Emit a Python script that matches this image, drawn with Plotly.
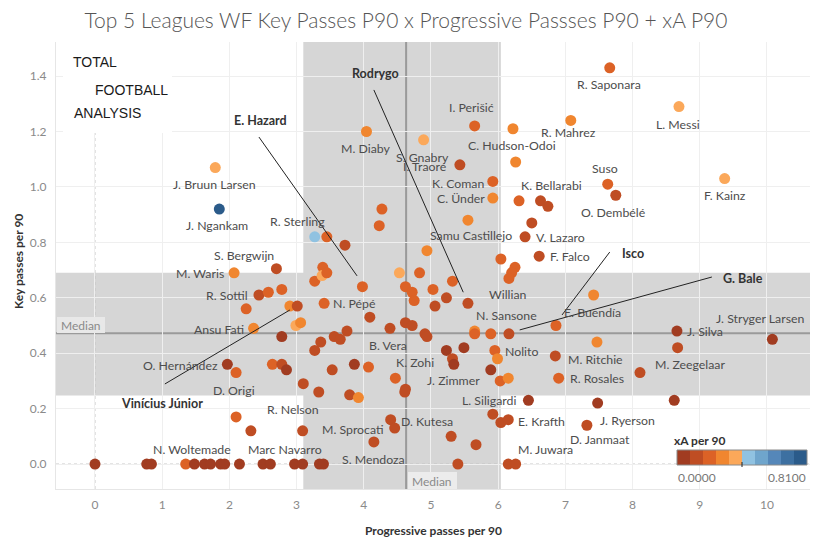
import plotly.graph_objects as go

TITLE = "Top 5 Leagues WF Key Passes P90 x Progressive Passses P90 + xA P90"
X_TITLE = "Progressive passes per 90"
Y_TITLE = "Key passes per 90"
LEGEND_TITLE = "xA per 90"

# ---- data ----
PROG_P90 = [
    1.79, 1.85, 3.27, 3.45, 3.39, 2.70, 2.07, 4.04, 4.89, 5.65,
    6.22, 5.43, 6.26, 5.92, 5.92, 6.31, 6.63, 6.74, 5.55, 6.50,
    6.40, 6.61, 4.27, 4.23, 3.72, 4.94, 6.04, 6.25, 7.66, 7.08,
    8.69, 7.63, 7.75, 9.37, 2.44, 2.58, 2.78, 2.25, 2.90, 3.01,
    2.36, 2.99, 3.06, 2.78, 1.97, 2.10, 2.64, 2.78, 2.85, 3.10,
    3.33, 3.27, 3.36, 3.53, 3.56, 3.41, 3.27, 3.38, 3.45, 2.10,
    2.32, 3.09, 3.98, 4.53, 4.83, 4.62, 4.72, 5.03, 5.32, 5.23,
    4.75, 5.06, 5.55, 6.20, 6.16, 4.09, 4.39, 4.62, 4.72, 4.91,
    4.94, 3.75, 3.65, 5.65, 5.65, 5.89, 6.16, 5.23, 5.49, 5.32,
    5.34, 5.95, 5.99, 5.89, 6.03, 6.15, 6.45, 5.92, 6.04, 6.15,
    5.30, 5.67, 3.86, 4.07, 3.79, 3.92, 4.47, 4.62, 4.61, 4.40,
    4.46, 4.15, 6.85, 6.90, 7.42, 7.47, 7.32, 7.48, 8.66, 8.67,
    10.08, 8.11, 8.62, 6.86,
    0.00, 0.77, 0.84, 1.35, 1.48, 1.63, 1.72, 1.87, 1.93, 2.15,
    2.50, 2.61, 2.97, 3.09, 3.34, 3.40, 5.40, 6.15, 6.26,
]
KEYP_P90 = [
    1.07, 0.92, 0.82, 0.82, 0.71, 0.705, 0.69, 1.20, 1.17, 1.22,
    1.21, 1.08, 1.09, 1.02, 0.96, 0.95, 0.95, 0.93, 0.88, 0.87,
    0.82, 0.75, 0.92, 0.86, 0.79, 0.77, 0.74, 0.71, 1.43, 1.24,
    1.29, 1.01, 0.97, 1.03, 0.61, 0.62, 0.63, 0.56, 0.57, 0.57,
    0.49, 0.50, 0.51, 0.46, 0.36, 0.33, 0.36, 0.36, 0.34, 0.29,
    0.26, 0.41, 0.44, 0.34, 0.46, 0.58, 0.66, 0.68, 0.69, 0.17,
    0.12, 0.12, 0.64, 0.69, 0.69, 0.64, 0.62, 0.63, 0.66, 0.60,
    0.59, 0.57, 0.58, 0.69, 0.67, 0.53, 0.49, 0.51, 0.50, 0.47,
    0.46, 0.48, 0.45, 0.48, 0.47, 0.47, 0.47, 0.41, 0.42, 0.38,
    0.36, 0.41, 0.38, 0.34, 0.30, 0.31, 0.23, 0.18, 0.15, 0.16,
    0.10, 0.07, 0.36, 0.35, 0.25, 0.24, 0.31, 0.27, 0.26, 0.16,
    0.13, 0.08, 0.39, 0.31, 0.61, 0.44, 0.14, 0.22, 0.48, 0.42,
    0.45, 0.33, 0.23, 0.50,
    0.0, 0.0, 0.0, 0.0, 0.0, 0.0, 0.0, 0.0, 0.0, 0.0,
    0.0, 0.0, 0.0, 0.0, 0.0, 0.0, 0.0, 0.0, 0.0,
]
XA_P90 = [
    0.36, 0.79, 0.44, 0.20, 0.21, 0.12, 0.28, 0.29, 0.36, 0.21,
    0.27, 0.13, 0.28, 0.19, 0.29, 0.20, 0.12, 0.11, 0.28, 0.13,
    0.12, 0.11, 0.19, 0.21, 0.12, 0.30, 0.20, 0.21, 0.20, 0.28,
    0.36, 0.21, 0.12, 0.37, 0.10, 0.20, 0.21, 0.19, 0.28, 0.11,
    0.28, 0.35, 0.27, 0.05, 0.04, 0.20, 0.19, 0.13, 0.06, 0.12,
    0.11, 0.13, 0.12, 0.11, 0.12, 0.20, 0.19, 0.36, 0.21, 0.19,
    0.12, 0.11, 0.20, 0.36, 0.19, 0.20, 0.21, 0.20, 0.21, 0.12,
    0.20, 0.13, 0.12, 0.20, 0.21, 0.12, 0.13, 0.12, 0.11, 0.12,
    0.13, 0.12, 0.11, 0.28, 0.20, 0.21, 0.12, 0.05, 0.06, 0.12,
    0.05, 0.19, 0.29, 0.06, 0.20, 0.28, 0.05, 0.12, 0.11, 0.12,
    0.13, 0.12, 0.05, 0.20, 0.12, 0.29, 0.21, 0.11, 0.12, 0.12,
    0.11, 0.13, 0.12, 0.20, 0.28, 0.27, 0.12, 0.05, 0.04, 0.12,
    0.05, 0.13, 0.06, 0.20,
    0.05, 0.04, 0.05, 0.19, 0.06, 0.05, 0.04, 0.05, 0.06, 0.05,
    0.04, 0.05, 0.06, 0.05, 0.04, 0.05, 0.10, 0.11, 0.10,
]

MEDIAN_PROG = 4.63
MEDIAN_KEYP = 0.472
BAND_PROG = (3.10, 6.04)
BAND_KEYP = (0.247, 0.69)

XA_MIN, XA_MAX = 0.0, 0.81
XA_TICKS = ["0.0000", "0.8100"]
XA_COLORS = ["#a13c21", "#bf4d23", "#dc6226", "#f0862f", "#fba85a",
             "#90c2e1", "#6fa5cc", "#5587b9", "#3d70a1", "#2b5b8a"]

X_TICKS = list(range(0, 11))
Y_TICKS = [0.0, 0.2, 0.4, 0.6, 0.8, 1.0, 1.2, 1.4]

# name labels: (text, x, y, highlighted)
LABELS = [
    ("R. Saponara", 7.65, 1.368, False), ("L. Messi", 8.68, 1.227, False),
    ("I. Perišić", 5.60, 1.285, False), ("R. Mahrez", 7.04, 1.198, False),
    ("M. Diaby", 4.03, 1.140, False), ("C. Hudson-Odoi", 6.21, 1.148, False),
    ("S. Gnabry", 4.88, 1.108, False), ("I. Traoré", 4.91, 1.075, False),
    ("Suso", 7.59, 1.065, False), ("K. Coman", 5.40, 1.014, False),
    ("J. Bruun Larsen", 1.78, 1.010, False), ("K. Bellarabi", 6.79, 1.004, False),
    ("C. Ünder", 5.45, 0.957, False), ("F. Kainz", 9.37, 0.968, False),
    ("O. Dembélé", 7.72, 0.909, False), ("J. Ngankam", 1.82, 0.861, False),
    ("R. Sterling", 3.02, 0.874, False), ("Samu Castillejo", 5.59, 0.823, False),
    ("V. Lazaro", 6.92, 0.817, False), ("S. Bergwijn", 2.22, 0.754, False),
    ("F. Falco", 7.07, 0.748, False), ("M. Waris", 1.56, 0.686, False),
    ("Willian", 6.15, 0.612, False), ("R. Sottil", 1.96, 0.607, False),
    ("N. Pépé", 3.86, 0.578, False), ("N. Sansone", 6.12, 0.535, False),
    ("E. Buendía", 7.40, 0.547, False), ("J. Stryger Larsen", 9.90, 0.526, False),
    ("Ansu Fati", 1.84, 0.487, False), ("J. Silva", 9.08, 0.477, False),
    ("B. Vera", 4.36, 0.429, False), ("Nolito", 6.35, 0.405, False),
    ("M. Ritchie", 7.45, 0.379, False), ("K. Zohi", 4.76, 0.366, False),
    ("O. Hernández", 1.28, 0.357, False), ("M. Zeegelaar", 8.85, 0.361, False),
    ("D. Origi", 2.07, 0.267, False), ("J. Zimmer", 5.33, 0.302, False),
    ("R. Rosales", 7.47, 0.308, False), ("L. Siligardi", 5.87, 0.228, False),
    ("R. Nelson", 2.94, 0.198, False), ("E. Krafth", 6.65, 0.155, False),
    ("J. Ryerson", 7.92, 0.158, False), ("D. Kutesa", 4.94, 0.155, False),
    ("M. Sprocati", 3.84, 0.126, False), ("D. Janmaat", 7.51, 0.087, False),
    ("N. Woltemade", 1.44, 0.054, False), ("Marc Navarro", 2.83, 0.054, False),
    ("M. Juwara", 6.70, 0.054, False), ("S. Mendoza", 4.14, 0.018, False),
    ("Rodrygo", 4.17, 1.410, True), ("E. Hazard", 2.47, 1.239, True),
    ("Isco", 8.01, 0.760, True), ("G. Bale", 9.64, 0.670, True),
    ("Vinícius Júnior", 0.99, 0.217, True),
]
# leader lines for highlighted players: (x0, y0, x1, y1)
LEADERS = [
    (2.44, 1.180, 3.90, 0.679),
    (4.15, 1.350, 5.48, 0.620),
    (7.66, 0.765, 6.95, 0.538),
    (9.18, 0.675, 6.32, 0.484),
    (1.04, 0.289, 2.90, 0.556),
]

# ---- layout geometry ----
W, H = 813, 546
PL, PR, PT, PB = 56, 810, 42, 489
X_RANGE = [-0.58, 10.64]
Y_RANGE = [-0.09, 1.523]
FONT = "Lato, 'Noto Sans', sans-serif"


def pxx(px):
    return (px - PL) / (PR - PL)


def pxy(py):
    return (PB - py) / (PB - PT)


cs = []
n = len(XA_COLORS)
for i, c in enumerate(XA_COLORS):
    cs.append([i / n, c])
    cs.append([(i + 1) / n, c])

fig = go.Figure()
fig.add_trace(go.Scatter(
    x=PROG_P90, y=KEYP_P90, mode="markers",
    marker=dict(size=11, color=XA_P90, colorscale=cs, cmin=XA_MIN, cmax=XA_MAX,
                line=dict(width=0), opacity=1),
    hoverinfo="x+y", showlegend=False,
))

shapes = []
band_col = "#d6d6d6"
shapes.append(dict(type="rect", xref="x", yref="paper", x0=BAND_PROG[0], x1=BAND_PROG[1],
                   y0=0, y1=1, fillcolor=band_col, line=dict(width=0), layer="below"))
shapes.append(dict(type="rect", xref="paper", yref="y", x0=0, x1=1,
                   y0=BAND_KEYP[0], y1=BAND_KEYP[1], fillcolor=band_col,
                   line=dict(width=0), layer="below"))
# zero dotted lines
shapes.append(dict(type="line", xref="x", yref="paper", x0=0, x1=0, y0=0, y1=1,
                   line=dict(color="#c4c4c4", width=1, dash="dot"), layer="below"))
shapes.append(dict(type="line", xref="paper", yref="y", x0=0, x1=1, y0=0, y1=0,
                   line=dict(color="#c4c4c4", width=1, dash="dot"), layer="below"))
# median lines
shapes.append(dict(type="line", xref="x", yref="paper", x0=MEDIAN_PROG, x1=MEDIAN_PROG,
                   y0=0, y1=1, line=dict(color="#9a9a9a", width=2), layer="between"))
shapes.append(dict(type="line", xref="paper", yref="y", x0=0, x1=1,
                   y0=MEDIAN_KEYP, y1=MEDIAN_KEYP, line=dict(color="#9a9a9a", width=2),
                   layer="between"))
# median label boxes
shapes.append(dict(type="rect", xref="paper", yref="paper", x0=pxx(57), x1=pxx(105),
                   y0=pxy(333), y1=pxy(317), fillcolor="#e8e8e8", line=dict(width=0),
                   layer="above"))
shapes.append(dict(type="rect", xref="paper", yref="paper", x0=pxx(408), x1=pxx(457),
                   y0=pxy(489), y1=pxy(472), fillcolor="#ececec", line=dict(width=0),
                   layer="above"))
# logo background
shapes.append(dict(type="rect", xref="paper", yref="paper", x0=pxx(63), x1=pxx(172),
                   y0=pxy(133), y1=pxy(42), fillcolor="white", line=dict(width=0),
                   layer="above"))
# leader lines
for x0, y0, x1, y1 in LEADERS:
    shapes.append(dict(type="line", xref="x", yref="y", x0=x0, y0=y0, x1=x1, y1=y1,
                       line=dict(color="#222222", width=1), layer="above"))
# colour legend
lx0, lx1, ly0, ly1 = 677, 807, 450, 465
step = (lx1 - lx0) / n
for i, c in enumerate(XA_COLORS):
    shapes.append(dict(type="rect", xref="paper", yref="paper",
                       x0=pxx(lx0 + i * step), x1=pxx(lx0 + (i + 1) * step),
                       y0=pxy(ly1), y1=pxy(ly0), fillcolor=c, line=dict(width=0),
                       layer="above"))
shapes.append(dict(type="rect", xref="paper", yref="paper", x0=pxx(lx0), x1=pxx(lx1),
                   y0=pxy(ly1), y1=pxy(ly0), line=dict(color="#8a8a8a", width=1),
                   fillcolor="rgba(0,0,0,0)", layer="above"))
shapes.append(dict(type="line", xref="paper", yref="paper", x0=pxx(742), x1=pxx(742),
                   y0=pxy(467), y1=pxy(462), line=dict(color="#222", width=1),
                   layer="above"))

ann = []
for text, x, y, hl in LABELS:
    ann.append(dict(x=x, y=y, xref="x", yref="y", text=text, showarrow=False,
                    xanchor="center", yanchor="middle",
                    font=dict(family=FONT, size=12.5 if hl else 12.3,
                              color="#333333" if hl else "#4d4d4d",
                              weight="bold" if hl else "normal")))


def paper_text(text, px, py, anchor="center", **font):
    f = dict(family=FONT, size=12, color="#8a8a8a")
    f.update(font)
    return dict(x=pxx(px), y=pxy(py), xref="paper", yref="paper", text=text,
                showarrow=False, xanchor=anchor, yanchor="middle", font=f)


ann.append(paper_text("Median", 81, 325))
ann.append(paper_text("Median", 432, 481))
# logo
logo_font = "'Liberation Sans Narrow', 'Liberation Sans', sans-serif"
for txt, cx, cy in [("TOTAL", 95, 62), ("FOOTBALL", 131, 90), ("ANALYSIS", 107, 113)]:
    ann.append(paper_text(txt, cx, cy, family=logo_font, size=14, color="#1a1a1a"))
# axis titles
ann.append(paper_text(X_TITLE, 433, 530, color="#333", weight="bold"))
yt = paper_text(Y_TITLE, 18, 262, color="#333", weight="bold")
yt["textangle"] = -90
ann.append(yt)
# legend texts
ann.append(paper_text(LEGEND_TITLE, 672, 440, anchor="left", color="#333", weight="bold"))
ann.append(paper_text(XA_TICKS[0], 676, 477, anchor="left", color="#777"))
ann.append(paper_text(XA_TICKS[1], 808, 477, anchor="right", color="#777"))

fig.update_layout(
    width=W, height=H,
    margin=dict(l=PL, r=W - PR, t=PT, b=H - PB),
    paper_bgcolor="white", plot_bgcolor="white",
    title=dict(text=TITLE, xref="container", yref="container", x=406 / W, y=1 - 21 / H,
               xanchor="center", yanchor="middle",
               font=dict(family=FONT, size=21, color="#555555", weight=300)),
    xaxis=dict(range=X_RANGE, tickvals=X_TICKS, showgrid=True, gridcolor="#efefef",
               zeroline=False, showline=True, linecolor="#e6e6e6", ticks="",
               tickfont=dict(family=FONT, size=12, color="#8a8a8a"), ticklabelstandoff=5),
    yaxis=dict(range=Y_RANGE, tickvals=Y_TICKS, ticktext=[f"{v:.1f}" for v in Y_TICKS],
               showgrid=True, gridcolor="#efefef", zeroline=False, showline=True,
               linecolor="#e6e6e6", ticks="",
               tickfont=dict(family=FONT, size=12, color="#8a8a8a"), ticklabelstandoff=6),
    shapes=shapes, annotations=ann,
)

fig.write_html("out.html", config={"displayModeBar": False},
               post_script="document.body.style.margin='0px';")
